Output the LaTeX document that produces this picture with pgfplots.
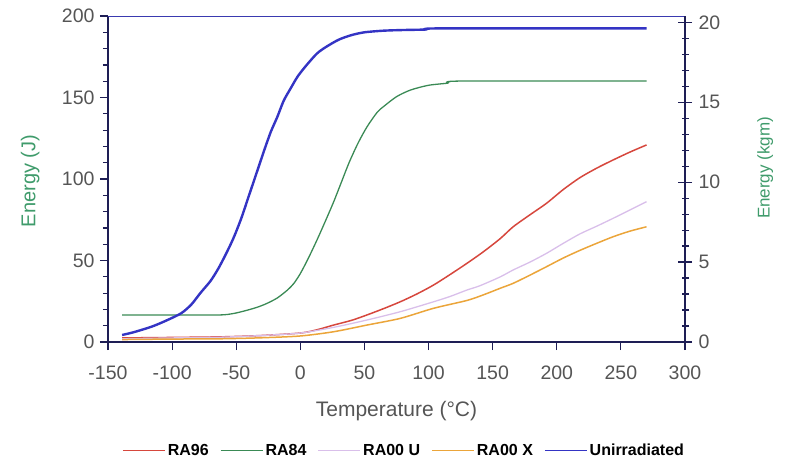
\documentclass[border=0pt]{standalone}
\usepackage{pgfplots}
\pgfplotsset{compat=1.18}
\usepackage{fontspec}
\setmainfont{Liberation Sans}
\definecolor{cRed}{HTML}{D6473D}
\definecolor{cGreen}{HTML}{3A8A55}
\definecolor{cLav}{HTML}{D9BFEA}
\definecolor{cOrange}{HTML}{EBA53A}
\definecolor{cBlue}{HTML}{3434C4}
\definecolor{axisNavy}{HTML}{1E1E55}
\definecolor{topBlue}{HTML}{3A3AB0}
\definecolor{tickGray}{HTML}{555555}
\definecolor{labGreen}{HTML}{3F9B6B}
\begin{document}
\begin{tikzpicture}
\path[use as bounding box] (0,0) rectangle (790pt,459pt);
\begin{axis}[
  at={(108pt,117pt)}, anchor=south west,
  scale only axis, width=577pt, height=326pt,
  xmin=-150, xmax=300, ymin=0, ymax=200,
  axis x line*=bottom, axis y line*=left,
  axis line style={draw=axisNavy, line width=1.5pt},
  xtick={-150,-100,...,300}, ytick={0,50,...,200},
  minor y tick num=4,
  tick align=outside, major tick length=8pt, minor tick length=5pt,
  tick style={draw=axisNavy, line width=1.2pt},
  /pgf/number format/assume math mode=true,
  tick label style={font=\fontsize{19.5}{20}\selectfont, text=tickGray},
  xticklabel style={yshift=-12pt},
  yticklabel style={xshift=-2pt},
  xlabel={Temperature (°C)},
  xlabel style={at={(axis description cs:0.5,-0.213)}, anchor=center, font=\fontsize{21}{22}\selectfont, text=tickGray},
  ylabel={Energy (J)},
  ylabel style={at={(axis description cs:-0.135,0.494)}, anchor=center, font=\fontsize{20}{21}\selectfont, text=labGreen},
  legend style={at={(axis description cs:0.513,-0.333)}, anchor=center, draw=none, fill=none,
    legend columns=5, font=\bfseries\fontsize{16}{17}\selectfont,
    /tikz/every even column/.append style={column sep=9pt}},
  legend cell align=left,
  legend image code/.code={\draw[#1, line width=1.8pt] (0pt,0pt) -- (42pt,0pt);},
  every axis plot/.append style={smooth, tension=0.45},
]
\addplot[cRed, line width=1.5pt] coordinates {
(-139,2.5) (-100,2.8) (-60,3.2) (-30,4) (0,5.5) (13,7.5) (26,10.4) (40,13.3) (52,16.6) (65,20.5) (78,24.7) (91,29.5) (104,35) (117,41.5) (130,48.3) (143,55.5) (156,63.5) (166,70.7) (179,78) (192,85.1) (205,93.5) (218,100.8) (231,106.6) (244,111.7) (257,116.5) (270,120.9)
};
\addlegendentry{RA96}
\addplot[cGreen, line width=1.3pt] coordinates {
(-139,16.6) (-100,16.6) (-63,16.6) (-52,17.5) (-41,19.6) (-33,21.5) (-26,23.7) (-18,27) (-10,31.9) (-5,36) (0,42) (6,51) (13,62.6) (20,75) (26,86) (32,98) (38,110) (45,122) (52,132) (60,141) (65,144.5) (75,150.5) (86,154.6) (100,157.5) (115,158.8) (126,160.1) (270,160.1)
};
\addlegendentry{RA84}
\addplot[cLav, line width=1.3pt] coordinates {
(-139,2) (-100,2.5) (-60,3) (-30,4) (0,5.5) (26,9) (52,13.5) (78,18.6) (104,24.7) (117,28) (130,31.9) (140,34.5) (156,40) (166,44.2) (179,49) (192,54.4) (205,60.5) (218,66.3) (231,71) (244,75.9) (257,81) (270,86.1)
};
\addlegendentry{RA00 U}
\addplot[cOrange, line width=1.5pt] coordinates {
(-139,1.5) (-100,1.8) (-60,2) (-30,2.6) (0,3.7) (26,6.3) (52,10.4) (78,14.5) (104,20.7) (130,25.5) (143,29) (156,33) (166,36) (179,41) (192,46.2) (205,51.5) (218,56.2) (231,60.5) (244,64.6) (257,68) (270,70.7)
};
\addlegendentry{RA00 X}
\addplot[cBlue, line width=2.4pt] coordinates {
(-139,4.3) (-130,6) (-116,9.4) (-105,13) (-93,17.6) (-85,23) (-78,30) (-70,37.5) (-64,45) (-58,54) (-52,64) (-46,76) (-40,90) (-34,104) (-28,118) (-23,129) (-18,138) (-13,148) (-8,155) (-2,163) (5,170) (13,177) (20,181) (30,185.5) (40,188.3) (50,190) (65,191) (80,191.4) (98,191.7) (110,192.4) (270,192.4)
};
\addlegendentry{Unirradiated}
\draw[topBlue, line width=2pt] (rel axis cs:0,1) -- (rel axis cs:1,1);
\end{axis}
\begin{axis}[
  at={(108pt,117pt)}, anchor=south west,
  scale only axis, width=577pt, height=326pt,
  xmin=-150, xmax=300, ymin=0, ymax=20.394,
  axis x line=none, axis y line*=right,
  axis line style={draw=axisNavy, line width=1.5pt},
  ytick={0,5,...,20}, minor y tick num=4,
  tick align=center, major tick length=14pt, minor tick length=7pt,
  tick style={draw=axisNavy, line width=1.2pt},
  /pgf/number format/assume math mode=true,
  tick label style={font=\fontsize{19.5}{20}\selectfont, text=tickGray},
  yticklabel style={xshift=3pt},
  ylabel={Energy (kgm)},
  ylabel style={at={(axis description cs:1.139,0.534)}, anchor=center, font=\fontsize{17}{18}\selectfont, text=labGreen},
]
\end{axis}
\end{tikzpicture}
\end{document}
